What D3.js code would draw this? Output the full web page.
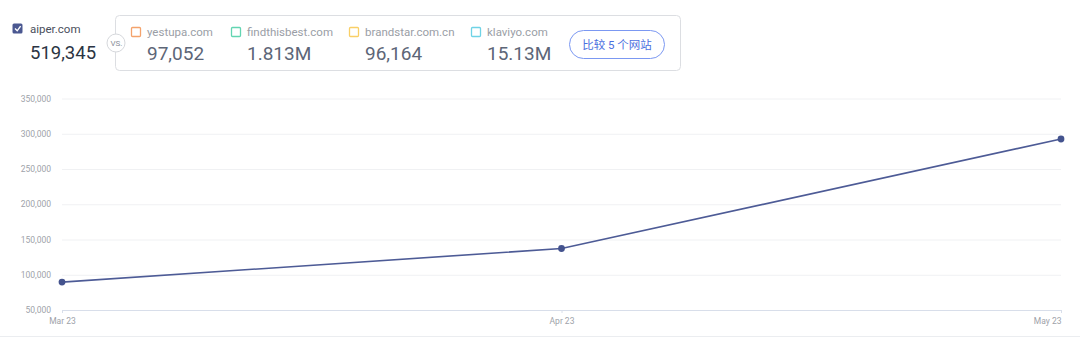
<!DOCTYPE html>
<html>
<head>
<meta charset="utf-8">
<script src="https://cdn.jsdelivr.net/npm/d3@7"></script>
<style>
  body { margin: 0; background: #fff; font-family: Roboto, "Noto Sans CJK SC", sans-serif; }
  svg { display: block; }
</style>
</head>
<body>
<div id="chart"></div>
<script>
// Chart data
var months = ["Mar 23", "Apr 23", "May 23"];
var visits = [89600, 137200, 292545];
var yTicks = [50000, 100000, 150000, 200000, 250000, 300000, 350000];

// Header data
var mainSite = "aiper.com";
var mainTotal = "519,345";
var rivalNames = ["yestupa.com", "findthisbest.com", "brandstar.com.cn", "klaviyo.com"];
var rivalTotals = ["97,052", "1.813M", "96,164", "15.13M"];
var rivalColors = ["#f4a36c", "#63d5b2", "#f9cf66", "#6fd3e6"];
var compareLabel = "比较 5 个网站";

var fullWidth = 1080, fullHeight = 348;
var margin = { top: 98.5, right: 19, bottom: 38, left: 62 };
var width = fullWidth - margin.left - margin.right;
var height = fullHeight - margin.top - margin.bottom;

var svg = d3.select("#chart").append("svg")
    .attr("width", fullWidth)
    .attr("height", fullHeight);

// ---- header ----
var head = svg.append("g");

head.append("rect")
    .attr("x", 12.5).attr("y", 23.5).attr("width", 10).attr("height", 10)
    .attr("rx", 1.5).attr("fill", "#4b5891");
head.append("path")
    .attr("d", "M15 28.6 L17.2 30.8 L20.6 26.2")
    .attr("fill", "none").attr("stroke", "#fff").attr("stroke-width", 1.4);
head.append("text")
    .attr("x", 30).attr("y", 32.5)
    .attr("font-size", 11.5).attr("fill", "#4a4f5c")
    .text(mainSite);
head.append("text")
    .attr("x", 30).attr("y", 58.5)
    .attr("font-size", 18.5).attr("fill", "#2b3443")
    .text(mainTotal);

// comparison box
head.append("rect")
    .attr("x", 115.5).attr("y", 15.5).attr("width", 565).attr("height", 55)
    .attr("rx", 4).attr("fill", "#fff").attr("stroke", "#dcdee2");

head.append("circle")
    .attr("cx", 116).attr("cy", 43).attr("r", 9)
    .attr("fill", "#fff").attr("stroke", "#d6d8dc");
head.append("text")
    .attr("x", 116.5).attr("y", 46)
    .attr("text-anchor", "middle")
    .attr("font-size", 8).attr("fill", "#8a8f99")
    .text("VS.");

var rivalX = [131, 231, 349, 471];
var rival = head.selectAll(".rival")
    .data(rivalNames)
    .enter().append("g")
    .attr("class", "rival")
    .attr("transform", function(d, i) { return "translate(" + rivalX[i] + ",0)"; });

rival.append("rect")
    .attr("x", 0.5).attr("y", 27.5).attr("width", 9).attr("height", 9)
    .attr("rx", 1).attr("fill", "none")
    .attr("stroke", function(d, i) { return rivalColors[i]; })
    .attr("stroke-width", 1.3);
rival.append("text")
    .attr("x", 16).attr("y", 36)
    .attr("font-size", 11.5).attr("fill", "#9a9ea6")
    .text(function(d) { return d; });
rival.append("text")
    .attr("x", 16).attr("y", 59.5)
    .attr("font-size", 19).attr("fill", "#5d6677")
    .text(function(d, i) { return rivalTotals[i]; });

head.append("rect")
    .attr("x", 569.5).attr("y", 30.5).attr("width", 95).attr("height", 28)
    .attr("rx", 14).attr("fill", "#fff").attr("stroke", "#7b98f2");
head.append("text")
    .attr("x", 617).attr("y", 48.5)
    .attr("text-anchor", "middle")
    .attr("font-size", 11.5).attr("fill", "#4b6fe0")
    .text(compareLabel);

// ---- chart ----
var g = svg.append("g")
    .attr("transform", "translate(" + margin.left + "," + margin.top + ")");

var x = d3.scalePoint().domain(months).range([0, width]);
var y = d3.scaleLinear().domain([50000, 350000]).range([height, 0]);

// gridlines + y labels
var yAxis = g.append("g")
    .call(d3.axisLeft(y).tickValues(yTicks).tickSize(0).tickPadding(11)
        .tickFormat(d3.format(",")));
yAxis.select(".domain").remove();
yAxis.selectAll("text")
    .attr("font-family", "Roboto, sans-serif")
    .attr("font-size", 8.5)
    .attr("fill", "#9ea2a9");
yAxis.selectAll(".tick").filter(function(d) { return d > 50000; })
    .append("line")
    .attr("x2", width)
    .attr("stroke", "#f0f1f3");

// x axis
var xAxis = g.append("g")
    .attr("transform", "translate(0," + height + ")")
    .call(d3.axisBottom(x).tickSize(3).tickPadding(5));
xAxis.select(".domain").attr("stroke", "#d8deea").attr("d", "M0,0.5H" + width);
xAxis.selectAll(".tick line").attr("stroke", "#d8deea");
xAxis.selectAll("text")
    .attr("font-family", "Roboto, sans-serif")
    .attr("font-size", 8.5)
    .attr("fill", "#9ea2a9");
xAxis.selectAll(".tick text")
    .attr("text-anchor", function(d, i) { return i === months.length - 1 ? "end" : "middle"; });

// line
var line = d3.line()
    .x(function(d, i) { return x(months[i]); })
    .y(function(d) { return y(d); });

g.append("path")
    .datum(visits)
    .attr("fill", "none")
    .attr("stroke", "#4d5b96")
    .attr("stroke-width", 1.6)
    .attr("d", line);

g.selectAll(".dot")
    .data(visits)
    .enter().append("circle")
    .attr("class", "dot")
    .attr("cx", function(d, i) { return x(months[i]); })
    .attr("cy", function(d) { return y(d); })
    .attr("r", 3.4)
    .attr("fill", "#44538e");

// bottom separator
svg.append("line")
    .attr("x1", 0).attr("x2", fullWidth)
    .attr("y1", 336.5).attr("y2", 336.5)
    .attr("stroke", "#ebedf0");
</script>
</body>
</html>
